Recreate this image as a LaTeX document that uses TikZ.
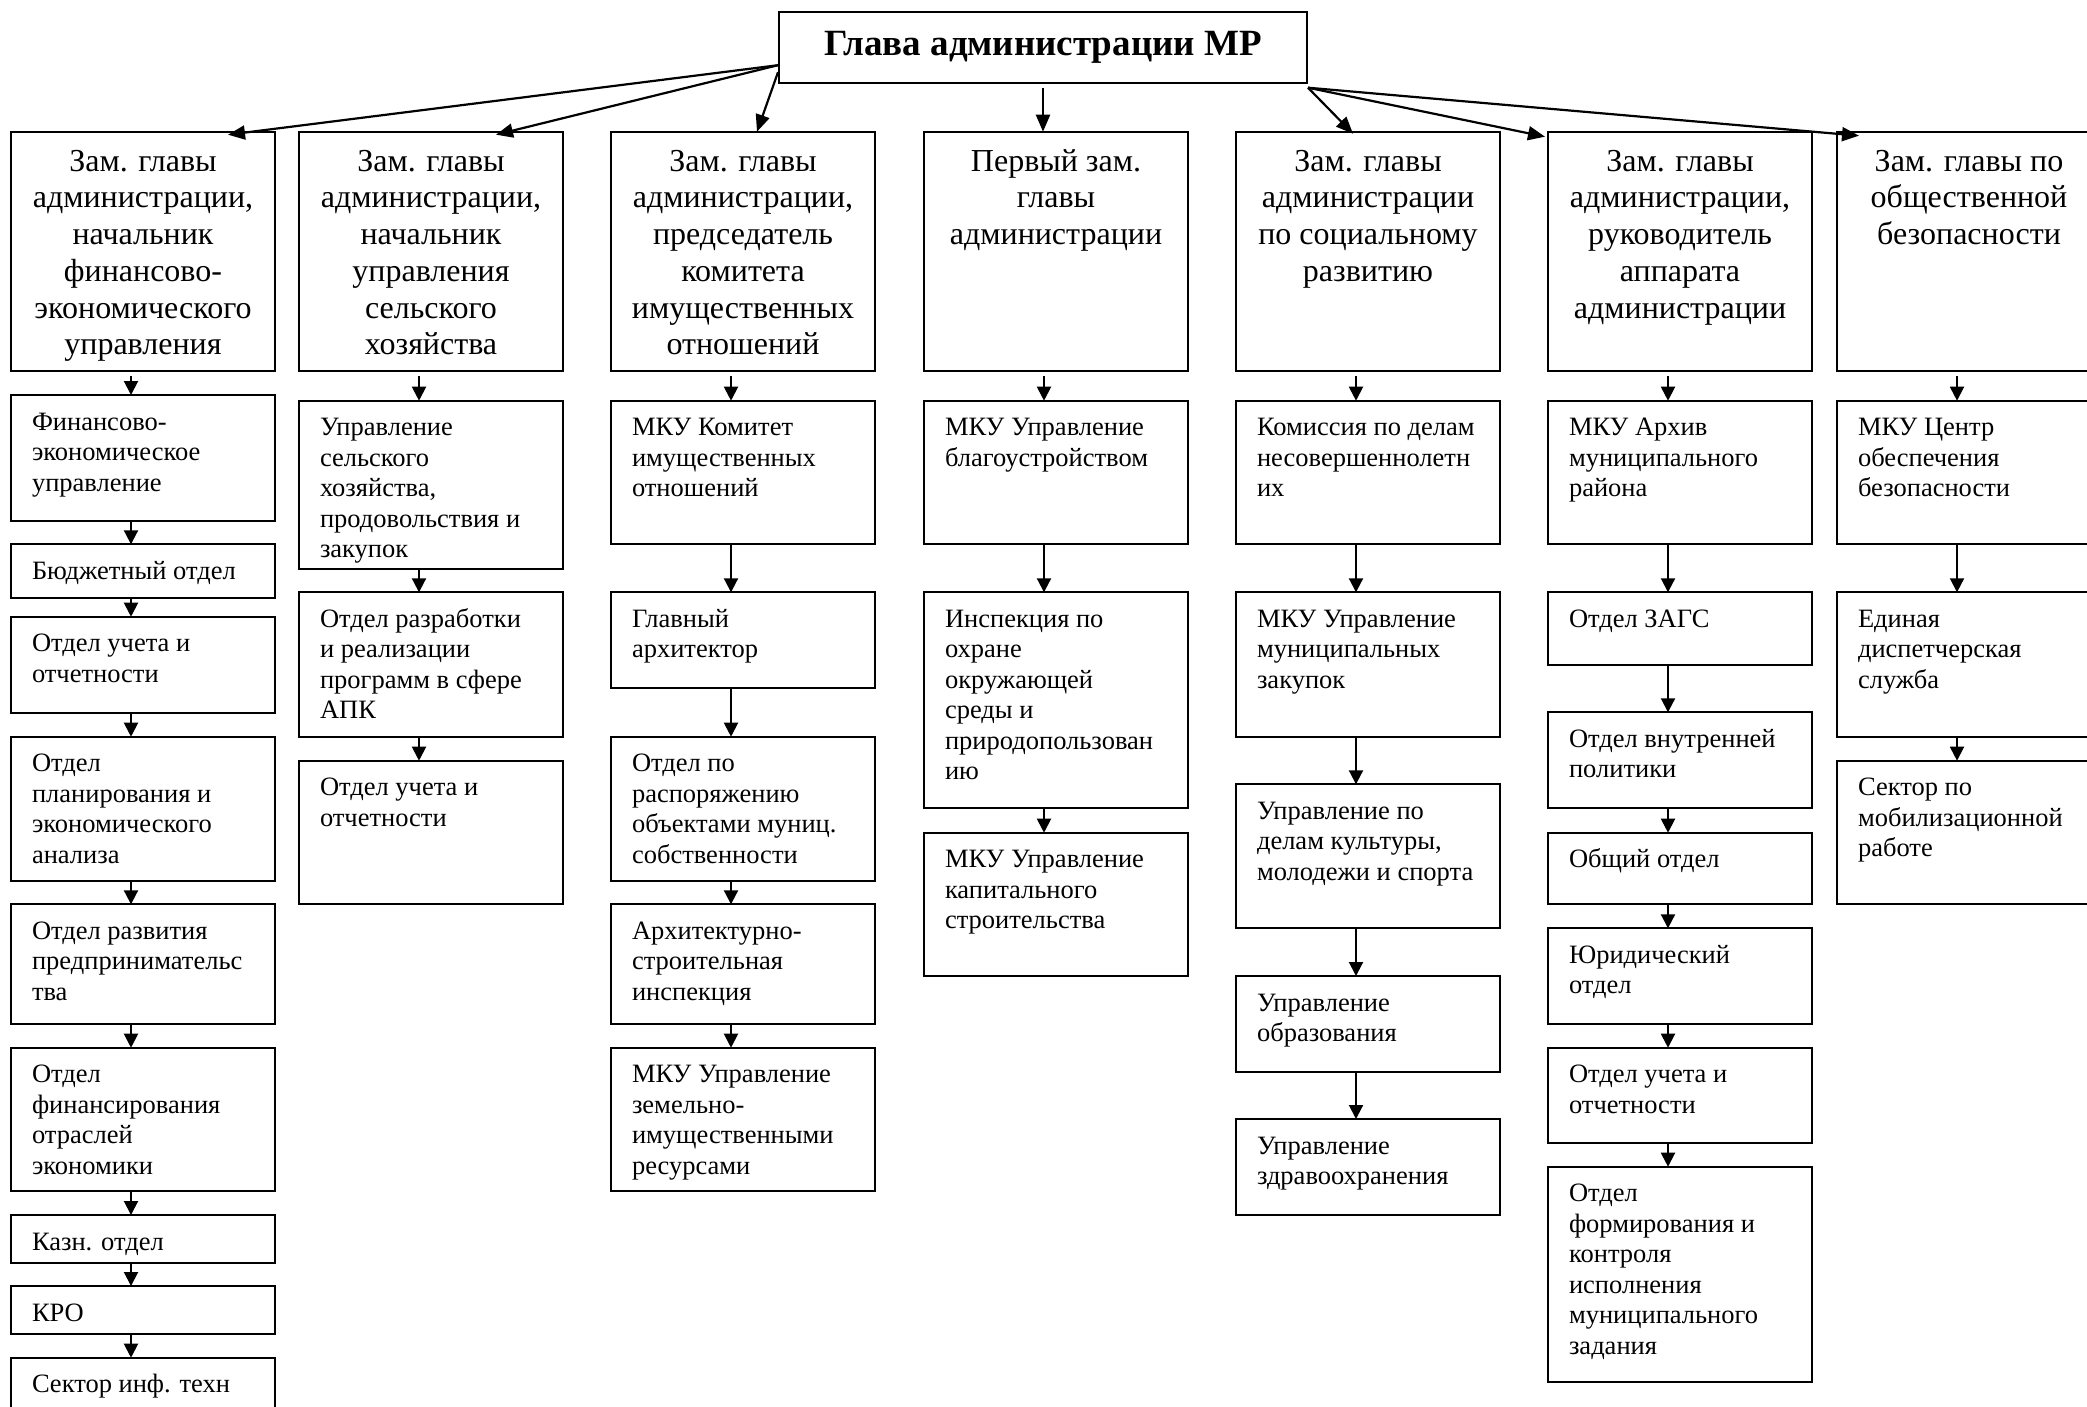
\documentclass[tikz,border=0pt]{standalone}
\usepackage{fontspec}
\setmainfont{Liberation Serif}
\usetikzlibrary{arrows.meta,calc}

% level-2 box content: height, text
\newcommand{\subtext}[2]{\hspace*{21pt}\parbox[t][#1][t]{243pt}{\fontsize{26.5}{30.5}\selectfont\raggedright\rule{0pt}{35pt}#2}}
% level-1 box content
\newcommand{\toptext}[1]{\parbox[t][239.3pt][t]{264pt}{\fontsize{32}{36.7}\selectfont\centering\rule{0pt}{39.5pt}#1}}

\tikzset{
  sbox/.style={draw, line width=2pt, inner sep=0pt, outer sep=0pt, anchor=north west},
  arr/.style={line width=2pt, -{Triangle[length=14pt,width=14pt]}},
  tarr/.style={line width=2.2pt, -{Triangle[length=17pt,width=14pt]}},
}

\begin{document}
\begin{tikzpicture}[x=1pt,y=-1pt]
\useasboundingbox (0,0) rectangle (2087,1406);
\fill[white] (0,0) rectangle (2087,1406);

% head
\node[draw, line width=2pt, minimum width=528pt, minimum height=71pt, inner sep=0pt,
      font=\bfseries\fontsize{37}{42}\selectfont] (head) at (1043,47.2) {Глава администрации МР};

% level 1
\node[sbox] (L1) at (11,131.7)   {\toptext{Зам. главы\\администрации,\\начальник\\финансово-\\экономического\\управления}};
\node[sbox] (L2) at (299,131.7)  {\toptext{Зам. главы\\администрации,\\начальник\\управления\\сельского\\хозяйства}};
\node[sbox] (L3) at (611,131.7)  {\toptext{Зам. главы\\администрации,\\председатель\\комитета\\имущественных\\отношений}};
\node[sbox] (L4) at (924,131.7)  {\toptext{Первый зам.\\главы\\администрации}};
\node[sbox] (L5) at (1236,131.7) {\toptext{Зам. главы\\администрации\\по социальному\\развитию}};
\node[sbox] (L6) at (1548,131.7) {\toptext{Зам. главы\\администрации,\\руководитель\\аппарата\\администрации}};
\node[sbox] (L7) at (1837,131.7) {\toptext{Зам. главы по\\общественной\\безопасности}};

% column 1
\node[sbox] (a1) at (11,395)    {\subtext{125.7pt}{Финансово-\\экономическое\\управление}};
\node[sbox] (a2) at (11,544.3)  {\subtext{54pt}{Бюджетный отдел}};
\node[sbox] (a3) at (11,616.7)  {\subtext{96pt}{Отдел учета и\\отчетности}};
\node[sbox] (a4) at (11,736.7)  {\subtext{144pt}{Отдел\\планирования и\\экономического\\анализа}};
\node[sbox] (a5) at (11,904.3)  {\subtext{119.7pt}{Отдел развития\\предпринимательс\\тва}};
\node[sbox] (a6) at (11,1047.7) {\subtext{143.3pt}{Отдел\\финансирования\\отраслей\\экономики}};
\node[sbox] (a7) at (11,1215)   {\subtext{47.7pt}{Казн. отдел}};
\node[sbox] (a8) at (11,1286)   {\subtext{48pt}{КРО}};
\node[sbox] (a9) at (11,1357.7) {\subtext{100pt}{Сектор инф. техн}};

% column 2
\node[sbox] (b1) at (299,400.7) {\subtext{168.3pt}{Управление\\сельского\\хозяйства,\\продовольствия и\\закупок}};
\node[sbox] (b2) at (299,592.3) {\subtext{144.4pt}{Отдел разработки\\и реализации\\программ в сфере\\АПК}};
\node[sbox] (b3) at (299,760.7) {\subtext{143.6pt}{Отдел учета и\\отчетности}};

% column 3
\node[sbox] (c1) at (611,400.7)  {\subtext{143.6pt}{МКУ Комитет\\имущественных\\отношений}};
\node[sbox] (c2) at (611,592.3)  {\subtext{96pt}{Главный\\архитектор}};
\node[sbox] (c3) at (611,736.7)  {\subtext{144pt}{Отдел по\\распоряжению\\объектами муниц.\\собственности}};
\node[sbox] (c4) at (611,904.3)  {\subtext{119.7pt}{Архитектурно-\\строительная\\инспекция}};
\node[sbox] (c5) at (611,1047.7) {\subtext{143.3pt}{МКУ Управление\\земельно-\\имущественными\\ресурсами}};

% column 4
\node[sbox] (d1) at (924,400.7) {\subtext{143.6pt}{МКУ Управление\\благоустройством}};
\node[sbox] (d2) at (924,592.3) {\subtext{216pt}{Инспекция по\\охране\\окружающей\\среды и\\природопользован\\ию}};
\node[sbox] (d3) at (924,832.7) {\subtext{143.3pt}{МКУ Управление\\капитального\\строительства}};

% column 5
\node[sbox] (e1) at (1236,400.7) {\subtext{143.6pt}{Комиссия по делам\\несовершеннолетн\\их}};
\node[sbox] (e2) at (1236,592.3) {\subtext{144.4pt}{МКУ Управление\\муниципальных\\закупок}};
\node[sbox] (e3) at (1236,784.3) {\subtext{144pt}{Управление по\\делам культуры,\\молодежи и спорта}};
\node[sbox] (e4) at (1236,976)   {\subtext{95.7pt}{Управление\\образования}};
\node[sbox] (e5) at (1236,1119)  {\subtext{96pt}{Управление\\здравоохранения}};

% column 6
\node[sbox] (f1) at (1548,400.7)  {\subtext{143.6pt}{МКУ Архив\\муниципального\\района}};
\node[sbox] (f2) at (1548,592.3)  {\subtext{72.7pt}{Отдел ЗАГС}};
\node[sbox] (f3) at (1548,712.3)  {\subtext{96pt}{Отдел внутренней\\политики}};
\node[sbox] (f4) at (1548,832.7)  {\subtext{71.6pt}{Общий отдел}};
\node[sbox] (f5) at (1548,928.3)  {\subtext{95.7pt}{Юридический\\отдел}};
\node[sbox] (f6) at (1548,1047.7) {\subtext{95.6pt}{Отдел учета и\\отчетности}};
\node[sbox] (f7) at (1548,1166.7) {\subtext{215pt}{Отдел\\формирования и\\контроля\\исполнения\\муниципального\\задания}};

% column 7
\node[sbox] (g1) at (1837,400.7) {\subtext{143.6pt}{МКУ Центр\\обеспечения\\безопасности}};
\node[sbox] (g2) at (1837,592.3) {\subtext{144.4pt}{Единая\\диспетчерская\\служба}};
\node[sbox] (g3) at (1837,760.7) {\subtext{143.6pt}{Сектор по\\мобилизационной\\работе}};

% arrows from head
\draw[tarr] ([yshift=-18pt]head.west) -- ([xshift=85pt,yshift=-3pt]L1.north);
\draw[tarr] ([yshift=-18pt]head.west) -- ([xshift=65pt,yshift=-3pt]L2.north);
\draw[tarr] ([yshift=-25pt]head.west) -- ([xshift=14pt]L3.north);
\draw[tarr] ([yshift=-4pt]head.south) -- (head.south |- L4.north);
\draw[tarr] ([yshift=-4pt]head.south east) -- ([xshift=-15pt,yshift=-2pt]L5.north);
\draw[tarr] ([yshift=-4pt]head.south east) -- ([xshift=-3pt,yshift=-5pt]L6.north west);
\draw[tarr] ([yshift=-4pt]head.south east) -- ([xshift=22pt,yshift=-4pt]L7.north west);

% vertical chains: from level-1 boxes (small gap under the box)
\foreach \p/\c in {L1/a1,L2/b1,L3/c1,L4/d1,L5/e1,L6/f1,L7/g1}
  \draw[arr, shorten <=5pt] ([xshift=-12pt]\p.south) -- ([xshift=-12pt]\c.north);
\foreach \p/\c in {a1/a2,a2/a3,a3/a4,a4/a5,a5/a6,a6/a7,a7/a8,a8/a9,
                   b1/b2,b2/b3,
                   c1/c2,c2/c3,c3/c4,c4/c5,
                   d1/d2,d2/d3,
                   e1/e2,e2/e3,e3/e4,e4/e5,
                   f1/f2,f2/f3,f3/f4,f4/f5,f5/f6,f6/f7,
                   g1/g2,g2/g3}
  \draw[arr] ([xshift=-12pt]\p.south) -- ([xshift=-12pt]\c.north);
\end{tikzpicture}
\end{document}
